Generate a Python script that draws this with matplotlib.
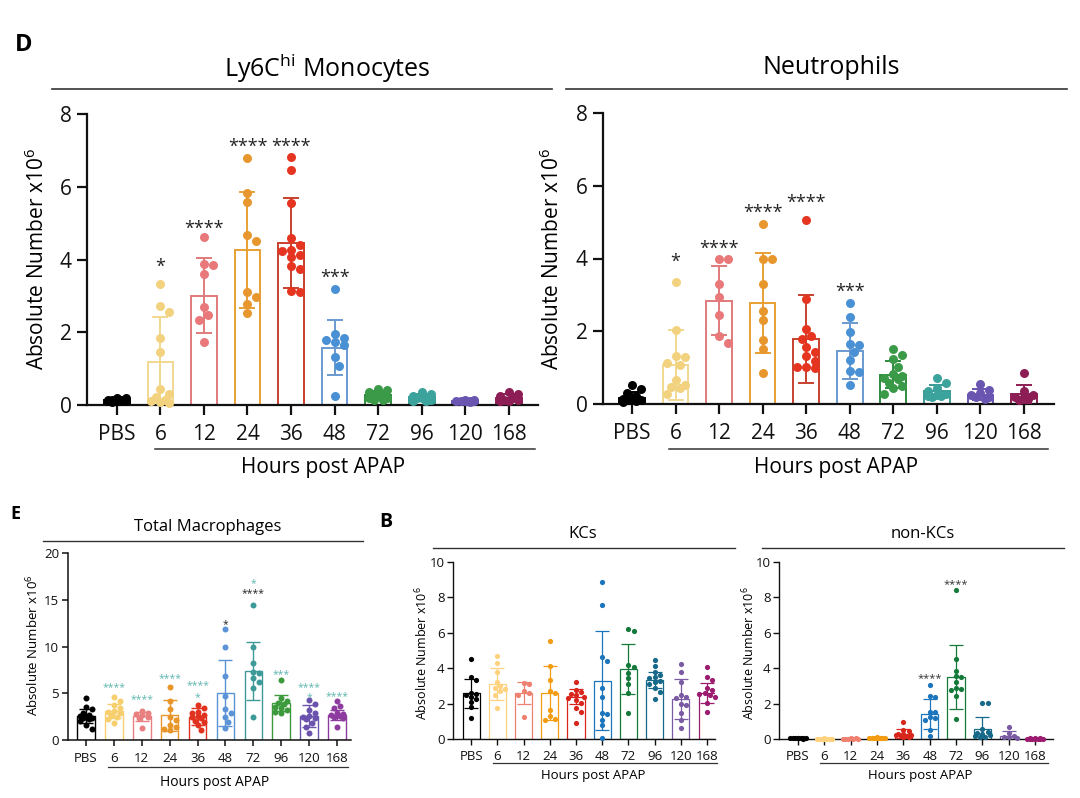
import numpy as np
import matplotlib
matplotlib.use('Agg')
import matplotlib.pyplot as plt
from matplotlib.lines import Line2D

plt.rcParams['font.family'] = ['Open Sans', 'DejaVu Sans']
plt.rcParams['mathtext.fontset'] = 'custom'
plt.rcParams['mathtext.rm'] = 'Open Sans'
plt.rcParams['mathtext.default'] = 'regular'

W, H = 1080, 798

groups = ['PBS', '6', '12', '24', '36', '48', '72', '96', '120', '168']

# ---------------- Ly6Chi Monocytes ----------------
mono_points = [
    [0.2, 0.18, 0.15, 0.15, 0.12, 0.12, 0.1, 0.1, 0.08, 0.14],
    [3.34, 2.72, 2.56, 1.85, 1.47, 0.44, 0.3, 0.21, 0.12, 0.07, 0.05, 0.15],
    [4.63, 3.89, 3.84, 3.59, 2.69, 2.48, 2.34, 1.74],
    [6.79, 5.84, 5.59, 4.68, 4.5, 3.1, 2.98, 2.79, 2.54],
    [6.83, 6.47, 5.55, 4.6, 4.41, 4.27, 4.22, 4.12, 4.08, 3.82, 3.75, 3.13, 3.12],
    [3.18, 1.96, 1.85, 1.8, 1.72, 1.65, 1.31, 1.08, 0.24],
    [0.45, 0.4, 0.35, 0.3, 0.3, 0.25, 0.2, 0.2, 0.15, 0.15],
    [0.35, 0.3, 0.25, 0.22, 0.2, 0.18, 0.15, 0.12, 0.1],
    [0.15, 0.13, 0.12, 0.1, 0.1, 0.08, 0.12, 0.1],
    [0.35, 0.3, 0.25, 0.2, 0.15, 0.12, 0.1, 0.15],
]
mono_mean = [0.13, 1.17, 3.01, 4.26, 4.46, 1.58, 0.28, 0.21, 0.11, 0.2]
mono_sd = [0.04, 1.25, 1.03, 1.6, 1.23, 0.75, 0.1, 0.08, 0.03, 0.09]
mono_star_text = ['', '*', '****', '****', '****', '***', '', '', '', '']
mono_star_y = [0, 3.96, 5.02, 7.28, 7.28, 3.66, 0, 0, 0, 0]

# ---------------- Neutrophils ----------------
neut_points = [
    [0.53, 0.4, 0.3, 0.22, 0.15, 0.12, 0.1, 0.1, 0.08, 0.05],
    [3.36, 2.04, 1.31, 1.29, 1.12, 1.08, 0.67, 0.53, 0.46, 0.44, 0.28],
    [3.99, 3.99, 3.29, 2.95, 2.45, 1.86, 1.69],
    [4.96, 3.99, 3.99, 3.29, 2.57, 2.31, 1.76, 1.52, 0.85],
    [5.07, 2.89, 2.06, 1.86, 1.8, 1.58, 1.44, 1.31, 1.17, 1.01, 1.01, 1.0],
    [2.77, 2.38, 1.97, 1.64, 1.63, 1.42, 1.22, 0.92, 0.87, 0.53],
    [1.52, 1.35, 1.24, 1.03, 0.83, 0.78, 0.71, 0.68, 0.59, 0.5, 0.44, 0.28],
    [0.71, 0.58, 0.44, 0.35, 0.28, 0.26, 0.23, 0.21, 0.2],
    [0.55, 0.39, 0.3, 0.25, 0.2, 0.18, 0.15],
    [0.85, 0.35, 0.25, 0.2, 0.18, 0.15, 0.12],
]
neut_mean = [0.17, 1.08, 2.84, 2.77, 1.79, 1.45, 0.8, 0.36, 0.25, 0.28]
neut_sd = [0.15, 0.96, 0.95, 1.38, 1.2, 0.77, 0.37, 0.16, 0.15, 0.24]
neut_star_text = ['', '*', '****', '****', '****', '***', '', '', '', '']
neut_star_y = [0, 4.07, 4.43, 5.42, 5.71, 3.24, 0, 0, 0, 0]

# ---------------- Total Macrophages ----------------
mac_points = [
    [4.5, 3.5, 3.3, 2.9, 2.7, 2.6, 2.5, 2.4, 2.3, 2.2, 2.0, 1.6, 1.2],
    [4.64, 4.18, 3.75, 3.39, 3.1, 3.0, 2.86, 2.7, 2.5, 2.2, 1.79],
    [3.14, 2.93, 2.8, 2.68, 2.5, 2.4, 1.25],
    [5.64, 4.21, 3.29, 2.5, 2.14, 1.6, 1.36, 1.07, 1.2],
    [3.75, 3.4, 3.04, 2.9, 2.57, 2.45, 2.07, 1.9, 1.6, 1.07, 2.7, 2.3],
    [11.86, 9.93, 6.89, 4.75, 3.32, 2.86, 2.5, 1.96, 1.25],
    [14.46, 9.93, 8.21, 7.32, 7.14, 6.6, 6.25, 5.54, 2.5],
    [6.43, 4.46, 4.18, 3.93, 3.8, 3.57, 3.4, 3.04, 2.9, 3.2],
    [4.29, 3.86, 3.21, 2.86, 2.5, 2.32, 2.2, 1.86, 1.43, 0.71, 2.6],
    [4.18, 3.64, 3.39, 2.86, 2.68, 2.55, 2.45, 2.3, 1.43, 2.75],
]
mac_mean = [2.55, 3.1, 2.52, 2.65, 2.5, 5.0, 7.4, 3.98, 2.55, 2.67]
mac_sd = [0.75, 0.8, 0.48, 1.65, 0.9, 3.55, 3.1, 0.88, 1.15, 0.53]
mac_star_group = [1, 2, 3, 4, 4, 5, 6, 6, 7, 8, 8, 9]
mac_star_text = ['****', '****', '****', '****', '*', '*', '*', '****', '***', '****', '*', '****']
mac_star_y = [6.0, 4.71, 7.04, 6.2, 5.0, 12.75, 17.2, 16.07, 7.39, 6.02, 5.0, 5.11]
mac_star_kind = ['t', 't', 't', 't', 't', 'k', 't', 'k', 't', 't', 't', 't']

# ---------------- KCs ----------------
kc_points = [
    [4.5, 3.52, 3.33, 2.62, 2.52, 2.39, 2.24, 2.11, 1.83, 1.17, 2.5],
    [4.71, 4.27, 3.8, 3.24, 3.0, 2.8, 2.7, 2.49, 1.73, 2.9],
    [3.18, 3.09, 2.58, 2.5, 1.26, 2.7],
    [5.56, 4.14, 3.33, 2.73, 2.58, 1.64, 1.3, 1.07, 1.15],
    [3.2, 2.77, 2.64, 2.49, 2.4, 2.2, 2.02, 1.73, 1.53, 0.92, 2.3, 2.55],
    [8.85, 7.57, 4.61, 4.43, 2.86, 2.39, 1.45, 1.42, 1.07, 0.79, 0.04],
    [6.21, 6.12, 4.18, 4.09, 3.75, 3.43, 3.09, 2.58, 1.45],
    [4.46, 4.12, 3.8, 3.62, 3.43, 3.3, 3.09, 2.9, 2.67, 2.24, 3.5, 3.2],
    [4.22, 3.8, 3.24, 2.39, 2.3, 1.98, 1.9, 1.45, 1.07, 0.6, 2.5],
    [4.05, 3.52, 3.33, 2.86, 2.75, 2.62, 2.55, 2.5, 2.4, 2.02, 1.54],
]
kc_mean = [2.58, 3.09, 2.58, 2.6, 2.39, 3.3, 3.95, 3.33, 2.24, 2.62]
kc_sd = [0.83, 0.9, 0.62, 1.5, 0.42, 2.8, 1.4, 0.47, 1.13, 0.57]

# ---------------- non-KCs ----------------
nk_points = [
    [0.05, 0.05, 0.04, 0.04, 0.03, 0.03, 0.02, 0.05, 0.03],
    [0.02, 0.02, 0.01, 0.02, 0.03, 0.02, 0.01, 0.02],
    [0.02, 0.03, 0.02, 0.01, 0.02, 0.02, 0.03],
    [0.1, 0.08, 0.06, 0.05, 0.05, 0.04, 0.03, 0.06, 0.08],
    [0.98, 0.51, 0.45, 0.3, 0.23, 0.2, 0.17, 0.15, 0.12, 0.1, 0.28],
    [3.05, 2.43, 2.39, 1.54, 1.5, 1.26, 1.17, 1.1, 0.51, 0.17],
    [8.42, 4.5, 3.84, 3.56, 3.5, 3.24, 2.9, 2.81, 2.75, 2.43, 1.11],
    [2.05, 2.02, 0.55, 0.41, 0.32, 0.28, 0.23, 0.17, 0.12, 0.1],
    [0.7, 0.32, 0.17, 0.1, 0.1, 0.06],
    [0.03, 0.02, 0.02, 0.03, 0.02, 0.01, 0.02, 0.03, 0.02, 0.02],
]
nk_mean = [0.04, 0.02, 0.02, 0.06, 0.3, 1.39, 3.5, 0.55, 0.17, 0.02]
nk_sd = [0.01, 0.01, 0.01, 0.02, 0.25, 0.85, 1.83, 0.72, 0.26, 0.01]
nk_star_text = ['', '', '', '', '', '****', '****', '', '', '']
nk_star_y = [0, 0, 0, 0, 0, 3.65, 8.98, 0, 0, 0]

# ---------------- colours ----------------
top_colors = ['#000000', '#F2D27E', '#E8787A', '#E8962E', '#E5341F',
              '#4A90D4', '#3A9A48', '#3BA39C', '#6A55B0', '#8C1E55']
top_bar_colors = ['#000000', '#F1D890', '#E07A7C', '#E8A035', '#C8402E',
                  '#6A9AD0', '#2E8A3E', '#3A9A95', '#6A55B0', '#8C1E55']
mac_colors = ['#000000', '#F7CF6E', '#E88080', '#E8952A', '#E0321E',
              '#5B93D6', '#3E9A98', '#3C9A3C', '#6B52AC', '#8E3BA0']
kc_colors = ['#000000', '#FFD27F', '#F08070', '#F39C12', '#D9261C',
             '#1B75BC', '#137A3A', '#17698A', '#7A5BA3', '#9B1B6E']
teal_star = '#5DB5B0'

fig = plt.figure(figsize=(W / 100, H / 100), dpi=100)
fig.patch.set_facecolor('white')


def px_axes(left, top, right, bottom):
    return fig.add_axes([left / W, 1 - bottom / H, (right - left) / W, (bottom - top) / H])


def hline(x0, x1, y, lw=1.2, color='#333333'):
    fig.add_artist(Line2D([x0 / W, x1 / W], [1 - y / H, 1 - y / H],
                          transform=fig.transFigure, color=color, lw=lw))


def ftext(x, y, s, **kw):
    fig.text(x / W, 1 - y / H, s, ha='center', va='center', **kw)


def swarm(ax, vals, diam_px, maxoff_px):
    bb = ax.get_window_extent()
    x0, x1 = ax.get_xlim()
    y0, y1 = ax.get_ylim()
    sx = bb.width / (x1 - x0)
    sy = bb.height / (y1 - y0)
    ys = np.asarray(vals, float) * sy
    order = np.argsort(-ys)
    step = diam_px * 0.5
    cands = [0.0]
    m = 1
    while m * step <= maxoff_px:
        cands += [m * step, -m * step]
        m += 1
    placed = []
    offs = np.zeros(len(ys))
    for i in order:
        chosen = None
        bestd, bestc = -1, 0.0
        for c in cands:
            if not placed:
                chosen = c
                break
            d = min(np.hypot(c - px, ys[i] - py) for px, py in placed)
            if d >= diam_px * 0.95:
                chosen = c
                break
            if d > bestd:
                bestd, bestc = d, c
        if chosen is None:
            chosen = bestc
        placed.append((chosen, ys[i]))
        offs[i] = chosen / sx
    return offs


def panel(rect, xlim, ylim, yticks, points, means, sds, colors, bar_colors,
          ms_px, barw, lw, spine_lw, tick_len, tick_fs, pad_x, pad_y):
    ax = px_axes(*rect)
    ax.set_xlim(*xlim)
    ax.set_ylim(*ylim)
    x = np.arange(len(groups))
    ax.bar(x, means, width=barw, facecolor='white', edgecolor=bar_colors,
           linewidth=lw, zorder=2)
    for i in range(len(groups)):
        ax.errorbar(x[i], means[i], yerr=sds[i], fmt='none', ecolor=bar_colors[i],
                    elinewidth=lw, capsize=barw * 10 * (1 if ms_px > 7 else 0.75),
                    capthick=lw, zorder=3)
    bb = ax.get_window_extent()
    spacing_px = bb.width / (xlim[1] - xlim[0])
    s = (ms_px * 0.72) ** 2
    for i in range(len(groups)):
        offs = swarm(ax, points[i], ms_px, spacing_px * 0.3)
        ax.scatter(x[i] + offs, points[i], s=s, color=colors[i], lw=0,
                   zorder=4, clip_on=False)
    for sp in ['top', 'right']:
        ax.spines[sp].set_visible(False)
    for sp in ['left', 'bottom']:
        ax.spines[sp].set_linewidth(spine_lw)
        ax.spines[sp].set_color('#111111')
    ax.set_xticks(x)
    ax.set_xticklabels(groups)
    ax.set_yticks(yticks)
    ax.tick_params(axis='both', direction='out', length=tick_len, width=spine_lw,
                   labelsize=tick_fs, color='#111111', labelcolor='#111111')
    ax.tick_params(axis='x', pad=pad_x)
    ax.tick_params(axis='y', pad=pad_y)
    ax.set_facecolor('none')
    return ax


def stars(ax, gi, text, y, fs, color):
    ax.annotate(text, xy=(gi, y), xytext=(0, -0.62 * fs), textcoords='offset points',
                ha='center', va='baseline', fontsize=fs, color=color, zorder=5,
                annotation_clip=False)


# ---------------- top panels ----------------
ax1 = panel((87, 114, 537.5, 405), (-0.685, 9.66), (0, 8), [0, 2, 4, 6, 8],
            mono_points, mono_mean, mono_sd, top_colors, top_bar_colors,
            9, 0.59, 1.4, 1.6, 7, 15, 7, 4)
for i, t in enumerate(mono_star_text):
    if t:
        stars(ax1, i, t, mono_star_y[i], 13, '#222222')

ax2 = panel((603, 113, 1054, 404), (-0.665, 9.69), (0, 8), [0, 2, 4, 6, 8],
            neut_points, neut_mean, neut_sd, top_colors, top_bar_colors,
            9, 0.59, 1.4, 1.6, 7, 15, 7, 4)
for i, t in enumerate(neut_star_text):
    if t:
        stars(ax2, i, t, neut_star_y[i], 13, '#222222')

ftext(24, 45, 'D', fontsize=17, fontweight='bold')
ftext(327, 68, 'Ly6C$^{hi}$ Monocytes', fontsize=18)
hline(52, 552, 89)
ftext(831, 68, 'Neutrophils', fontsize=18)
hline(566, 1067, 89)
ftext(37, 259, 'Absolute Number x10$^{6}$', fontsize=15, rotation=90)
ftext(552, 259, 'Absolute Number x10$^{6}$', fontsize=15, rotation=90)
hline(155, 535, 449, lw=1.1)
ftext(323, 468, 'Hours post APAP', fontsize=15)
hline(669, 1048, 449, lw=1.1)
ftext(836, 468, 'Hours post APAP', fontsize=15)

# ---------------- bottom panels ----------------
ax3 = panel((68, 553, 351, 740), (-0.645, 9.5), (0, 20), [0, 5, 10, 15, 20],
            mac_points, mac_mean, mac_sd, mac_colors, mac_colors,
            6, 0.63, 1.0, 1.1, 4, 9.5, 5, 2.5)
for g, t, y, k in zip(mac_star_group, mac_star_text, mac_star_y, mac_star_kind):
    stars(ax3, g, t, y, 7.5, teal_star if k == 't' else '#222222')

ax4 = panel((453, 562, 715, 739), (-0.69, 9.3), (0, 10), [0, 2, 4, 6, 8, 10],
            kc_points, kc_mean, kc_sd, kc_colors, kc_colors,
            5.2, 0.65, 0.9, 1.0, 4, 9.5, 4, 2)

ax5 = panel((779, 562, 1053, 739), (-0.72, 9.68), (0, 10), [0, 2, 4, 6, 8, 10],
            nk_points, nk_mean, nk_sd, kc_colors, kc_colors,
            5.2, 0.65, 0.9, 1.0, 4, 9.5, 4, 2)
for i, t in enumerate(nk_star_text):
    if t:
        stars(ax5, i, t, nk_star_y[i], 8, '#333333')

ftext(15, 514, 'E', fontsize=13, fontweight='bold')
ftext(208, 527, 'Total Macrophages', fontsize=12)
hline(43, 363, 541, lw=1.0)
ftext(33, 645, 'Absolute Number x10$^{6}$', fontsize=9.5, rotation=90)
hline(108, 348, 767, lw=0.9)
ftext(215, 782, 'Hours post APAP', fontsize=10)

ftext(386, 522, 'B', fontsize=14, fontweight='bold')
ftext(583, 534, 'KCs', fontsize=12)
hline(433, 735, 548, lw=1.0)
ftext(422, 653, 'Absolute Number x10$^{6}$', fontsize=9, rotation=90)
hline(493, 717, 763, lw=0.9)
ftext(593, 775, 'Hours post APAP', fontsize=9.5)

ftext(923, 534, 'non-KCs', fontsize=12)
hline(762, 1064, 548, lw=1.0)
ftext(749, 653, 'Absolute Number x10$^{6}$', fontsize=9, rotation=90)
hline(820, 1048, 763, lw=0.9)
ftext(920, 775, 'Hours post APAP', fontsize=9.5)

fig.savefig('out.png', dpi=100)
